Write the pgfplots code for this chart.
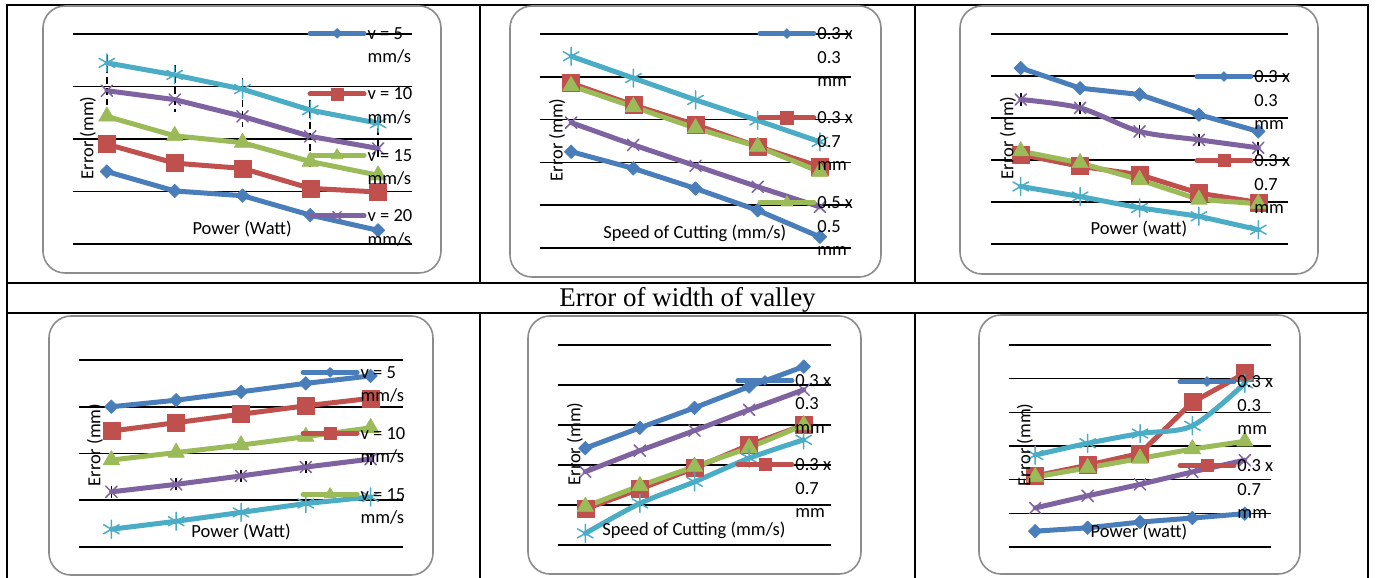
\documentclass[border=0pt]{standalone}
\usepackage{fontspec}
\setmainfont{Carlito}
\newfontfamily\titlefont{Liberation Serif}
\usepackage{pgfplots}
\pgfplotsset{compat=1.18}

\definecolor{sBlue}{HTML}{4A7EBB}
\definecolor{sRed}{HTML}{C0504D}
\definecolor{sGreen}{HTML}{9BBB59}
\definecolor{sPurple}{HTML}{7F63A1}
\definecolor{sCyan}{HTML}{4BACC6}
\definecolor{framegray}{HTML}{8C8C8C}

% legend texts wrap onto several lines; the first line carries the baseline
\newcommand{\twoline}[2]{\vtop{\hbox{#1}\hbox{#2}}}
\newcommand{\threeline}[3]{\vtop{\hbox{#1}\hbox{#2}\hbox{#3}}}

\pgfplotsset{
  errchart/.style={
    scale only axis, clip=false, anchor=south west,
    xmin=0, xmax=5, ymin=0,
    axis line style={draw=none},
    xtick=\empty, yticklabel=\empty,
    major tick length=0pt,
    ymajorgrids, grid style={black, line width=1.6pt},
    font=\fontsize{18.5}{23.5}\selectfont,
    xlabel style={anchor=center, inner sep=0pt},
    ylabel style={anchor=center, inner sep=0pt},
    legend image code/.code={\draw[mark repeat=2, mark phase=2, yshift=6pt, ##1] plot coordinates {(0pt,0pt) (27pt,0pt) (54pt,0pt)};},
    legend image post style={every mark/.append style={scale=0.72}},
    legend style={draw=none, fill=none, inner sep=0pt, outer sep=0pt, anchor=north west,
      column sep=1pt, font=\fontsize{18.5}{23.5}\selectfont,
      nodes={inner sep=0pt}, cells={anchor=base west}},
  },
  twolegend/.style={legend style={row sep=47pt}},
  threelegend/.style={legend style={row sep=70.5pt}},
  serie/.style={line width=5pt, line join=round, line cap=round},
  sA/.style={serie, sBlue, mark=square*, mark size=4.8pt, mark options={rotate=45, line width=0.6pt}},
  sB/.style={serie, sRed, mark=square*, mark size=8.5pt, mark options={line width=0.6pt}},
  sC/.style={serie, sGreen, mark=triangle*, mark size=9.5pt, mark options={line width=0.6pt}},
  sD/.style={serie, sPurple, mark=x, mark size=8pt, mark options={line width=1.5pt}},
  sE/.style={serie, sCyan, mark=asterisk, mark size=9pt, mark options={line width=1.5pt}},
  hilo/.style={black, line width=1.8pt, no marks, forget plot, unbounded coords=jump},
}

\begin{document}
\begin{tikzpicture}[x=1pt, y=1pt]
\useasboundingbox (0,0) rectangle (1376,578);
\clip (0,0) rectangle (1376,578);

% table rules
\begin{scope}[line width=2pt, black]
  \draw (7,573) -- (1368,573);
  \draw (7,295) -- (1368,295);
  \draw (7,265) -- (1368,265);
  \draw (7,574) -- (7,-2);
  \draw (1368,574) -- (1368,-2);
  \draw (480,573) -- (480,295);
  \draw (915,573) -- (915,295);
  \draw (480,265) -- (480,-2);
  \draw (915,265) -- (915,-2);
\end{scope}
\node[anchor=base, font=\titlefont\fontsize{27}{30}\selectfont, inner sep=0pt] at (687.5,271) {Error of width of valley};

% chart frames
\begin{scope}[framegray, line width=1.6pt, rounded corners=22pt]
  \draw (43,305) rectangle (441,572);
  \draw (510,301) rectangle (881,572);
  \draw (960,304) rectangle (1318,572);
  \draw (49,3) rectangle (433,262);
  \draw (528,4) rectangle (861,262);
  \draw (979,4) rectangle (1300,263);
\end{scope}

% ---------- top left: error vs power ----------
\begin{axis}[errchart, twolegend, at={(73pt,334pt)}, width=339pt, height=210pt,
  ymax=4, ytick={0,...,4},
  xlabel={Power (Watt)}, ylabel={Error (mm)},
  xlabel style={at={(axis description cs:0.499,0.071)}},
  ylabel style={at={(axis description cs:0.044,0.505)}},
  legend style={at={(axis description cs:0.692,1.031)}}]
\addplot[sA] coordinates {(0.5,1.38) (1.5,1.01) (2.5,0.92) (3.5,0.55) (4.5,0.26)};
\addplot[sB] coordinates {(0.5,1.90) (1.5,1.54) (2.5,1.44) (3.5,1.06) (4.5,0.99)};
\addplot[sC] coordinates {(0.5,2.43) (1.5,2.06) (2.5,1.93) (3.5,1.57) (4.5,1.31)};
\addplot[sD] coordinates {(0.5,2.92) (1.5,2.75) (2.5,2.43) (3.5,2.05) (4.5,1.82)};
\addplot[sE] coordinates {(0.5,3.45) (1.5,3.22) (2.5,2.95) (3.5,2.55) (4.5,2.30)};
\addplot[hilo, dash pattern=on 7pt off 4pt] coordinates {(0.5,3.60) (0.5,2.65) (0.5,nan) (1.5,3.41) (1.5,2.51) (1.5,nan)
  (2.5,3.16) (2.5,2.23) (2.5,nan) (3.5,2.74) (3.5,1.47) (3.5,nan) (4.5,2.42) (4.5,1.66)};
\legend{\twoline{v = 5}{mm/s},\twoline{v = 10}{mm/s},\twoline{v = 15}{mm/s},\twoline{v = 20}{mm/s}}
\end{axis}

% ---------- top middle: error vs cutting speed ----------
\begin{axis}[errchart, threelegend, at={(540pt,330pt)}, width=311pt, height=214pt,
  ymax=5, ytick={0,...,5},
  xlabel={Speed of Cutting (mm/s)}, ylabel={Error (mm)},
  xlabel style={at={(axis description cs:0.498,0.070)}},
  ylabel style={at={(axis description cs:0.055,0.505)}},
  legend style={at={(axis description cs:0.699,1.030)}}]
\addplot[sA] coordinates {(0.5,2.25) (1.5,1.86) (2.5,1.39) (3.5,0.88) (4.5,0.26)};
\addplot[sB] coordinates {(0.5,3.85) (1.5,3.34) (2.5,2.88) (3.5,2.37) (4.5,1.90)};
\addplot[sC] coordinates {(0.5,3.79) (1.5,3.30) (2.5,2.80) (3.5,2.37) (4.5,1.78)};
\addplot[sD] coordinates {(0.5,2.93) (1.5,2.41) (2.5,1.92) (3.5,1.43) (4.5,0.96)};
\addplot[sE] coordinates {(0.5,4.48) (1.5,3.97) (2.5,3.46) (3.5,2.98) (4.5,2.48)};
\legend{\threeline{0.3 x}{0.3}{mm},\threeline{0.3 x}{0.7}{mm},\threeline{0.5 x}{0.5}{mm}}
\end{axis}

% ---------- top right: error vs power ----------
\begin{axis}[errchart, threelegend, at={(991pt,334pt)}, width=297pt, height=210pt,
  ymax=5, ytick={0,...,5},
  xlabel={Power (watt)}, ylabel={Error (mm)},
  xlabel style={at={(axis description cs:0.498,0.071)}},
  ylabel style={at={(axis description cs:0.057,0.505)}},
  legend style={at={(axis description cs:0.685,0.826)}}]
\addplot[sA] coordinates {(0.5,4.19) (1.5,3.71) (2.5,3.56) (3.5,3.08) (4.5,2.68)};
\addplot[sB] coordinates {(0.5,2.13) (1.5,1.85) (2.5,1.65) (3.5,1.21) (4.5,0.99)};
\addplot[sC] coordinates {(0.5,2.21) (1.5,1.93) (2.5,1.53) (3.5,1.06) (4.5,0.96)};
\addplot[hilo] coordinates {(0.5,3.59) (0.5,3.29) (0.5,nan) (1.5,3.39) (1.5,3.09) (1.5,nan)
  (2.5,2.83) (2.5,2.53) (2.5,nan) (3.5,2.63) (3.5,2.33) (3.5,nan) (4.5,2.44) (4.5,2.14)};
\addplot[sD, smooth] coordinates {(0.5,3.44) (1.5,3.24) (2.5,2.68) (3.5,2.48) (4.5,2.29)};
\addplot[sE] coordinates {(0.5,1.37) (1.5,1.13) (2.5,0.86) (3.5,0.66) (4.5,0.34)};
\legend{\threeline{0.3 x}{0.3}{mm},\threeline{0.3 x}{0.7}{mm}}
\end{axis}

% ---------- bottom left: error vs power ----------
\begin{axis}[errchart, twolegend, at={(79pt,31pt)}, width=324pt, height=187pt,
  ymax=4, ytick={0,...,4},
  xlabel={Power (Watt)}, ylabel={Error (mm)},
  xlabel style={at={(axis description cs:0.5,0.080)}},
  ylabel style={at={(axis description cs:0.049,0.545)}},
  legend style={at={(axis description cs:0.684,0.965)}}]
\addplot[sA] coordinates {(0.5,3.00) (1.5,3.14) (2.5,3.32) (3.5,3.50) (4.5,3.66)};
\addplot[sB] coordinates {(0.5,2.48) (1.5,2.66) (2.5,2.84) (3.5,3.02) (4.5,3.18)};
\addplot[sC] coordinates {(0.5,1.86) (1.5,2.02) (2.5,2.18) (3.5,2.36) (4.5,2.55)};
\addplot[hilo] coordinates {(0.5,1.31) (0.5,1.05) (0.5,nan) (1.5,1.47) (1.5,1.21) (1.5,nan)
  (2.5,1.65) (2.5,1.39) (2.5,nan) (3.5,1.84) (3.5,1.58) (3.5,nan) (4.5,2.01) (4.5,1.75)};
\addplot[sD] coordinates {(0.5,1.18) (1.5,1.34) (2.5,1.52) (3.5,1.71) (4.5,1.88)};
\addplot[sE] coordinates {(0.5,0.38) (1.5,0.55) (2.5,0.74) (3.5,0.93) (4.5,1.07)};
\legend{\twoline{v = 5}{mm/s},\twoline{v = 10}{mm/s},\twoline{v = 15}{mm/s}}
\end{axis}

% ---------- bottom middle: error vs cutting speed ----------
\begin{axis}[errchart, threelegend, at={(558pt,33pt)}, width=273pt, height=200pt,
  ymax=5, ytick={0,...,5},
  xlabel={Speed of Cutting (mm/s)}, ylabel={Error (mm)},
  xlabel style={at={(axis description cs:0.498,0.075)}},
  ylabel style={at={(axis description cs:0.062,0.505)}},
  legend style={at={(axis description cs:0.650,0.853)}}]
\addplot[sA] coordinates {(0.5,2.42) (1.5,2.93) (2.5,3.43) (3.5,3.96) (4.5,4.46)};
\addplot[sB] coordinates {(0.5,0.90) (1.5,1.40) (2.5,1.92) (3.5,2.50) (4.5,3.00)};
\addplot[sC] coordinates {(0.5,0.96) (1.5,1.48) (2.5,1.96) (3.5,2.43) (4.5,3.00)};
\addplot[sD] coordinates {(0.5,1.83) (1.5,2.36) (2.5,2.86) (3.5,3.38) (4.5,3.88)};
\addplot[sE, smooth] coordinates {(0.5,0.29) (1.5,1.04) (2.5,1.58) (3.5,2.17) (4.5,2.63)};
\legend{\threeline{0.3 x}{0.3}{mm},\threeline{0.3 x}{0.7}{mm}}
\end{axis}

% ---------- bottom right: error vs power ----------
\begin{axis}[errchart, threelegend, at={(1009pt,31pt)}, width=262pt, height=202pt,
  ymax=6, ytick={0,...,6},
  xlabel={Power (watt)}, ylabel={Error (mm)},
  xlabel style={at={(axis description cs:0.496,0.074)}},
  ylabel style={at={(axis description cs:0.061,0.505)}},
  legend style={at={(axis description cs:0.643,0.849)}}]
\addplot[sA] coordinates {(0.5,0.47) (1.5,0.57) (2.5,0.74) (3.5,0.86) (4.5,0.99)};
\addplot[sB] coordinates {(0.5,2.11) (1.5,2.43) (2.5,2.78) (3.5,4.30) (4.5,5.16)};
\addplot[sC] coordinates {(0.5,2.08) (1.5,2.35) (2.5,2.63) (3.5,2.91) (4.5,3.14)};
\addplot[sD] coordinates {(0.5,1.16) (1.5,1.52) (2.5,1.86) (3.5,2.23) (4.5,2.58)};
\addplot[sE, smooth] coordinates {(0.5,2.73) (1.5,3.08) (2.5,3.37) (3.5,3.60) (4.5,4.86)};
\legend{\threeline{0.3 x}{0.3}{mm},\threeline{0.3 x}{0.7}{mm}}
\end{axis}
\end{tikzpicture}
\end{document}
